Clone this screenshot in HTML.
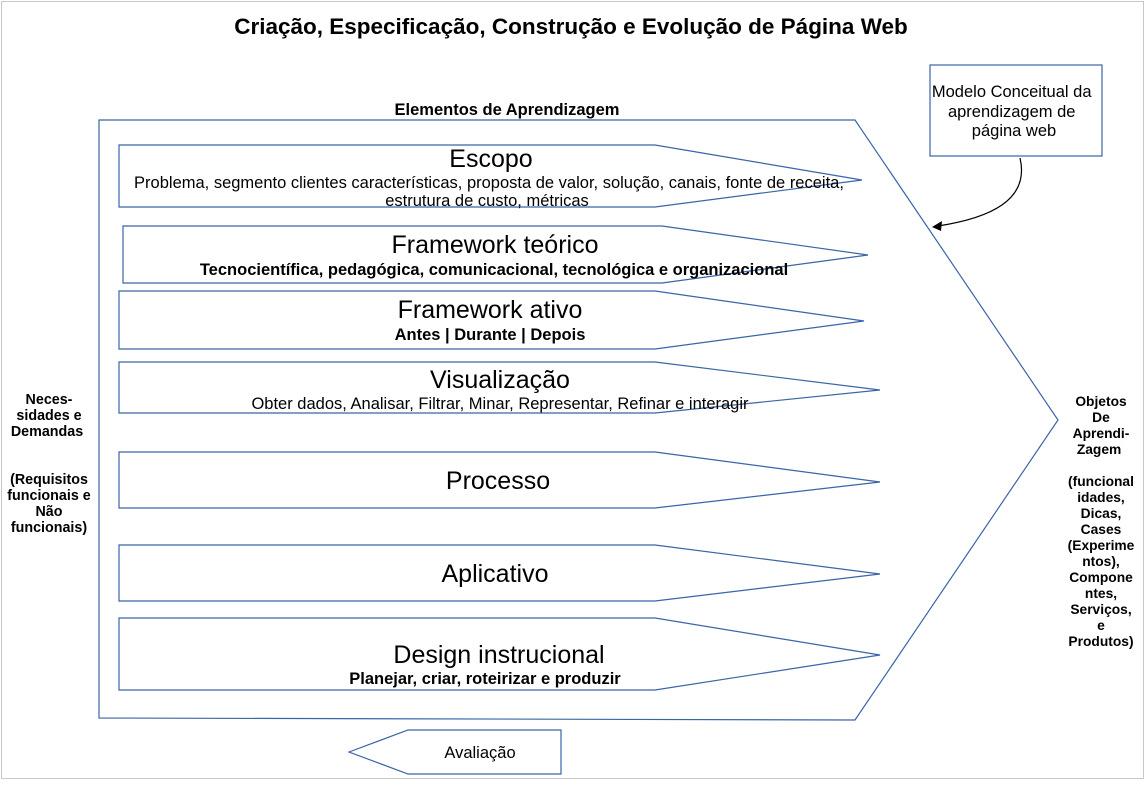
<!DOCTYPE html>
<html><head><meta charset="utf-8"><style>
body{margin:0;width:1145px;height:780px;background:#fff;overflow:hidden;font-family:"Liberation Sans",sans-serif}
svg text{font-family:"Liberation Sans",sans-serif;fill:#000}
</style></head><body>
<svg width="1145" height="780" viewBox="0 0 1145 780">
<rect x="1.5" y="1.5" width="1142" height="777" fill="none" stroke="#c8c8c8"/>
<text x="571" y="34" text-anchor="middle" font-size="22.5" font-weight="bold">Criação, Especificação, Construção e Evolução de Página Web</text>
<text x="507" y="115" text-anchor="middle" font-size="16.5" font-weight="bold">Elementos de Aprendizagem</text>
<g fill="none" stroke="#3a65a8" stroke-width="1.2">
<polygon points="99,120 855,120 1058,420 855,720 99,718"/>
<polygon points="119,145 655,145 862,180 655,207 119,207"/>
<polygon points="123,226 662,226 868,255 662,283 123,283"/>
<polygon points="119,291 655,291 864,321 655,349 119,349"/>
<polygon points="119,362 655,362 880,390 655,413 119,413"/>
<polygon points="119,452 655,452 880,482 655,508 119,508"/>
<polygon points="119,545 655,545 880,574 655,601 119,601"/>
<polygon points="119,618 655,618 880,655 655,690 119,690"/>
<polygon points="349,752 408,730 561,730 561,774 408,774"/>
<rect x="930" y="65" width="172" height="91"/>
</g>
<path d="M1020,158 C1030,200 990,218 938,226" fill="none" stroke="#000" stroke-width="1.2"/>
<polygon points="932,227 942,221 941,231" fill="#000"/>
<text font-size="16.5" text-anchor="middle">
<tspan x="1014" y="97">Modelo Conceitual da</tspan>
<tspan x="1014" y="117">aprendizagem de</tspan>
<tspan x="1014" y="136">página web</tspan>
</text>
<text x="491" y="167" text-anchor="middle" font-size="25">Escopo</text>
<text x="489" y="188" text-anchor="middle" font-size="16.5">Problema, segmento clientes características, proposta de valor, solução, canais, fonte de receita,</text>
<text x="487" y="206" text-anchor="middle" font-size="16.5">estrutura de custo, métricas</text>
<text x="495" y="253" text-anchor="middle" font-size="25">Framework teórico</text>
<text x="494" y="275" text-anchor="middle" font-size="16.5" font-weight="bold">Tecnocientífica, pedagógica, comunicacional, tecnológica e organizacional</text>
<text x="490" y="318" text-anchor="middle" font-size="25">Framework ativo</text>
<text x="490" y="340" text-anchor="middle" font-size="16.5" font-weight="bold">Antes | Durante | Depois</text>
<text x="500" y="388" text-anchor="middle" font-size="25">Visualização</text>
<text x="500" y="409" text-anchor="middle" font-size="16.5">Obter dados, Analisar, Filtrar, Minar, Representar, Refinar e interagir</text>
<text x="498" y="489" text-anchor="middle" font-size="25">Processo</text>
<text x="495" y="582" text-anchor="middle" font-size="25">Aplicativo</text>
<text x="499" y="663" text-anchor="middle" font-size="25">Design instrucional</text>
<text x="485" y="684" text-anchor="middle" font-size="16.5" font-weight="bold">Planejar, criar, roteirizar e produzir</text>
<text x="480" y="758" text-anchor="middle" font-size="16.5">Avaliação</text>
<text font-size="14.3" font-weight="bold" text-anchor="middle">
<tspan x="49" y="404">Neces-</tspan><tspan x="49" y="420">sidades e</tspan><tspan x="49" y="436">Demandas</tspan>
<tspan x="49" y="484">(Requisitos</tspan><tspan x="49" y="500">funcionais e</tspan><tspan x="49" y="516">Não</tspan><tspan x="49" y="532">funcionais)</tspan>
</text>
<text font-size="13.8" font-weight="bold" text-anchor="middle">
<tspan x="1101" y="406">Objetos</tspan><tspan x="1101" y="422">De</tspan><tspan x="1101" y="438">Aprendi-</tspan><tspan x="1101" y="454">Zagem</tspan>
<tspan x="1101" y="486">(funcional</tspan><tspan x="1101" y="502">idades,</tspan><tspan x="1101" y="518">Dicas,</tspan><tspan x="1101" y="534">Cases</tspan><tspan x="1101" y="550">(Experime</tspan><tspan x="1101" y="566">ntos),</tspan><tspan x="1101" y="582">Compone</tspan><tspan x="1101" y="598">ntes,</tspan><tspan x="1101" y="614">Serviços,</tspan><tspan x="1101" y="630">e</tspan><tspan x="1101" y="646">Produtos)</tspan>
</text>
</svg>
</body></html>
